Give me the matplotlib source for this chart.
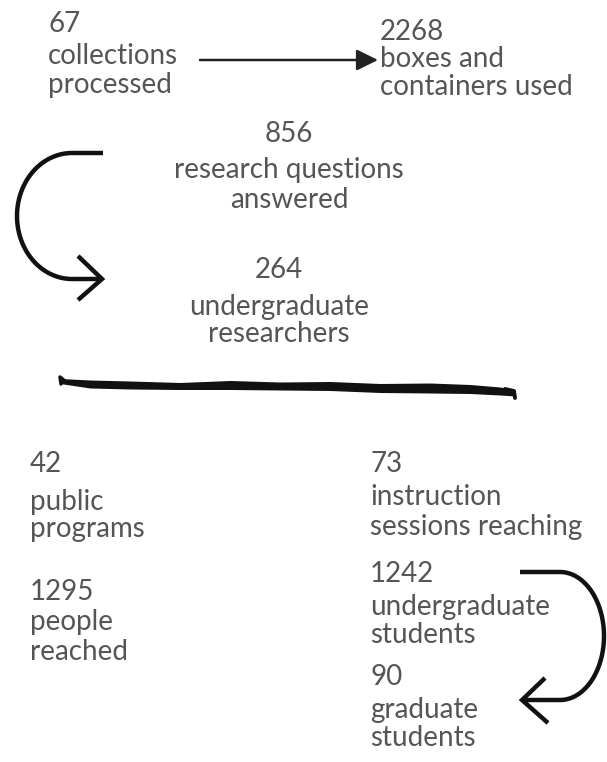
import matplotlib.pyplot as plt
import numpy as np

plt.rcParams['font.family'] = ['Lato', 'DejaVu Sans']

# figures shown in the infographic
top_numbers = ["67", "2268"]
top_labels = [["collections", "processed"], ["boxes and", "containers used"]]

mid_numbers = ["856", "264"]
mid_labels = [["research questions", "answered"], ["undergraduate", "researchers"]]

left_numbers = ["42", "1295"]
left_labels = [["public", "programs"], ["people", "reached"]]

right_numbers = ["73", "1242", "90"]
right_labels = [["instruction", "sessions reaching"],
                ["undergraduate", "students"],
                ["graduate", "students"]]

TXT = "#555555"
INK = "#111111"
FS = 20

fig = plt.figure(figsize=(6.07, 7.62), dpi=100)
ax = fig.add_axes([0, 0, 1, 1])
ax.set_xlim(0, 607)
ax.set_ylim(762, 0)
ax.axis('off')


def block(x, base, number, lines, gap0, gap, ha='left'):
    """number on first baseline, then the label lines below"""
    ax.text(x, base, number, ha=ha, va='baseline', fontsize=FS, color=TXT)
    y = base + gap0
    for ln in lines:
        ax.text(x, y, ln, ha=ha, va='baseline', fontsize=FS, color=TXT)
        y += gap


# top row
block(48, 32, top_numbers[0], top_labels[0], 32, 29)
block(380, 40, top_numbers[1], top_labels[1], 27, 28)
ax.annotate('', xy=(378, 60), xytext=(200, 60),
            arrowprops=dict(arrowstyle='-|>,head_length=0.65,head_width=0.32',
                            lw=1.8, color='#222222', mutation_scale=20,
                            shrinkA=0, shrinkB=0))

# middle column
block(289, 142, mid_numbers[0], mid_labels[0], 36, 30, ha='center')
block(279, 278, mid_numbers[1], mid_labels[1], 37, 27, ha='center')

# left curved arrow
t = np.linspace(np.pi / 2, 3 * np.pi / 2, 80)
cx, cy, rx, ry = 72, 216, 55, 63
xs = np.concatenate([[103], cx + rx * np.cos(t), [102]])
ys = np.concatenate([[153], cy - ry * np.sin(t), [279]])
ax.plot(xs, ys, color=INK, lw=3.2, solid_capstyle='butt', solid_joinstyle='round')
ax.plot([78, 102, 78], [256, 279, 300], color=INK, lw=3.2,
        solid_capstyle='butt', solid_joinstyle='miter')

# brush stroke divider
bx = np.array([60, 90, 130, 180, 230, 280, 330, 380, 430, 470, 500, 515])
by = np.array([381, 384, 385, 386, 385, 386, 386, 388, 388, 389, 391, 393])
bw = np.array([5, 8, 8, 7, 9, 8, 9, 9, 10, 9, 8, 6])
xx = np.linspace(60, 515, 300)
yc = np.interp(xx, bx, by)
ww = np.interp(xx, bx, bw)
ax.fill_between(xx, yc - ww / 2, yc + ww / 2, color=INK, lw=0)
ax.plot([61, 60, 66], [384, 377, 382], color=INK, lw=2.5, solid_capstyle='round')
ax.plot([505, 514, 515], [389, 391, 398], color=INK, lw=2.8, solid_capstyle='round')

# bottom left
block(30, 472, left_numbers[0], left_labels[0], 38, 27)
block(30, 600, left_numbers[1], left_labels[1], 30, 30)

# bottom right
block(370, 472, right_numbers[0], right_labels[0], 33, 30)
block(370, 582, right_numbers[1], right_labels[1], 33, 28)
block(370, 685, right_numbers[2], right_labels[2], 33, 28)

# right curved arrow
t = np.linspace(np.pi / 2, -np.pi / 2, 80)
cx, cy, rx, ry = 560, 636, 44, 64
xs = np.concatenate([[520], cx + rx * np.cos(t), [522]])
ys = np.concatenate([[572], cy - ry * np.sin(t), [700]])
ax.plot(xs, ys, color=INK, lw=3.2, solid_capstyle='butt', solid_joinstyle='round')
ax.plot([545, 522, 548], [678, 700, 723], color=INK, lw=3.2,
        solid_capstyle='butt', solid_joinstyle='miter')

fig.savefig('out.png', dpi=100)
